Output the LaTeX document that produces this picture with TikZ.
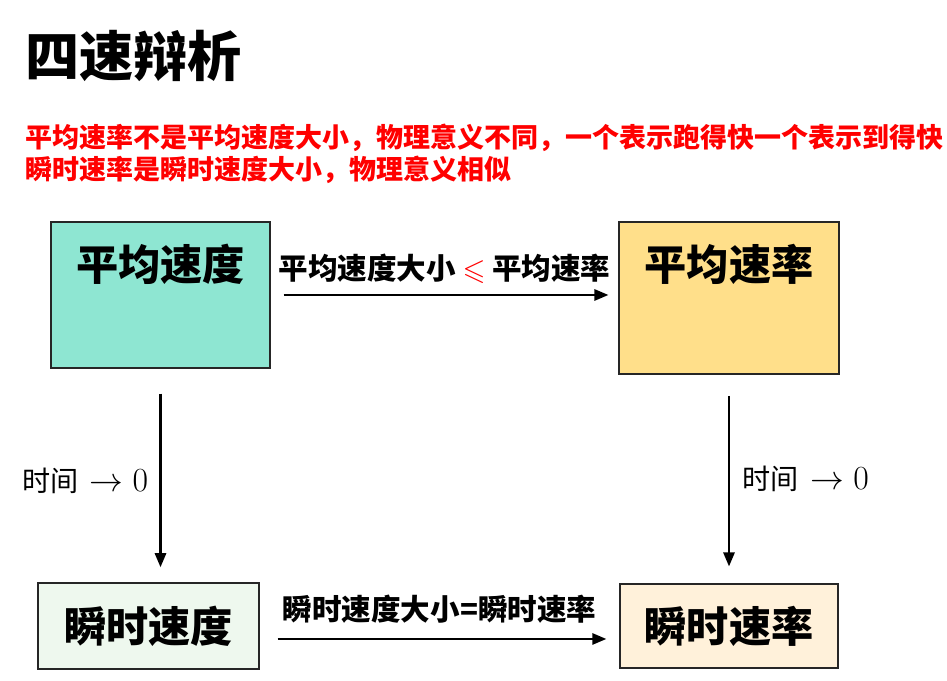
\RequirePackage{fix-cm}
\documentclass[tikz,border=0pt]{standalone}
\usepackage{amsmath,amssymb}
\usepackage{xcolor}
\usepackage{fontspec}
\setmainfont{Noto Sans CJK SC}
\usepackage{tikz}
\usetikzlibrary{arrows.meta, positioning, calc}
\definecolor{avgvelfill}{HTML}{8EE6D2}
\definecolor{avgratefill}{HTML}{FFDF8A}
\definecolor{instvelfill}{HTML}{EEF8EE}
\definecolor{instratefill}{HTML}{FFF1DA}
\tikzset{
  box/.style={rectangle, draw=black!85, line width=1pt, inner sep=0pt},
  boxtext/.style={font=\fontsize{30}{32}\selectfont\bfseries},
  arrowtext/.style={font=\fontsize{21}{23}\selectfont\bfseries, inner sep=0pt},
  timetext/.style={font=\fontsize{20}{22}\selectfont, inner sep=0pt},
  notetext/.style={font=\fontsize{19.2}{23}\selectfont\bfseries, text=red, align=left, inner sep=0pt},
  arrowline/.style={-{Triangle[length=10pt, width=8pt]}, line width=1.6pt}
}
\newcommand{\ttime}{时间\hspace{8pt}{\fontsize{24}{26}\selectfont$\to 0$}}

\begin{document}
\begin{tikzpicture}[x=0.025cm, y=0.025cm]
  \useasboundingbox (0,0) rectangle (947,681);
  % title and notes
  \node[font=\fontsize{38.5}{40}\selectfont\bfseries, anchor=west, inner sep=0pt] (title) at (25,625) {四速辩析};
  \node[notetext, anchor=west] (note) at (25,527) {平均速率不是平均速度大小，物理意义不同，一个表示跑得快一个表示到得快\\瞬时速率是瞬时速度大小，物理意义相似};

  % the four boxes
  \node[box, fill=avgvelfill, minimum width=5.475cm, minimum height=3.65cm] (avel) at (160.5,386) {};
  \node[box, fill=avgratefill, minimum width=5.5cm, minimum height=3.8cm] (arate) at (729,383) {};
  \node[box, fill=instvelfill, minimum width=5.525cm, minimum height=2.15cm, boxtext] (ivel) at (148.5,55) {瞬时速度};
  \node[box, fill=instratefill, minimum width=5.45cm, minimum height=2.1cm, boxtext] (irate) at (729,55) {瞬时速率};
  \node[boxtext] (aveltxt) at ($(avel.north)+(0,-43)$) {平均速度};
  \node[boxtext] (aratetxt) at ($(arate.north)+(0,-43)$) {平均速率};

  % connectors
  \draw[arrowline, shorten <=9.2pt, shorten >=7pt] (avel.east) -- (avel.east -| arate.west)
    node[arrowtext, midway, above=7pt] (toplbl) {平均速度大小 \textcolor{red}{$\leqslant$} 平均速率};
  \coordinate (bstart) at ($(ivel.east)+(0,-13)$);
  \draw[arrowline, shorten <=12.8pt, shorten >=9.2pt] (bstart) -- (bstart -| irate.west)
    node[arrowtext, midway, above=10.5pt] (botlbl) {瞬时速度大小=瞬时速率};
  \draw[arrowline, shorten <=17.8pt, shorten >=10.7pt] (avel.south) -- (avel.south |- ivel.north)
    node[timetext, midway, left=8pt, yshift=-3.5pt] (ltime) {\ttime};
  \draw[arrowline, shorten <=15pt, shorten >=12pt] (arate.south) -- (arate.south |- irate.north)
    node[timetext, midway, right=9pt] (rtime) {\ttime};
\end{tikzpicture}
\end{document}
